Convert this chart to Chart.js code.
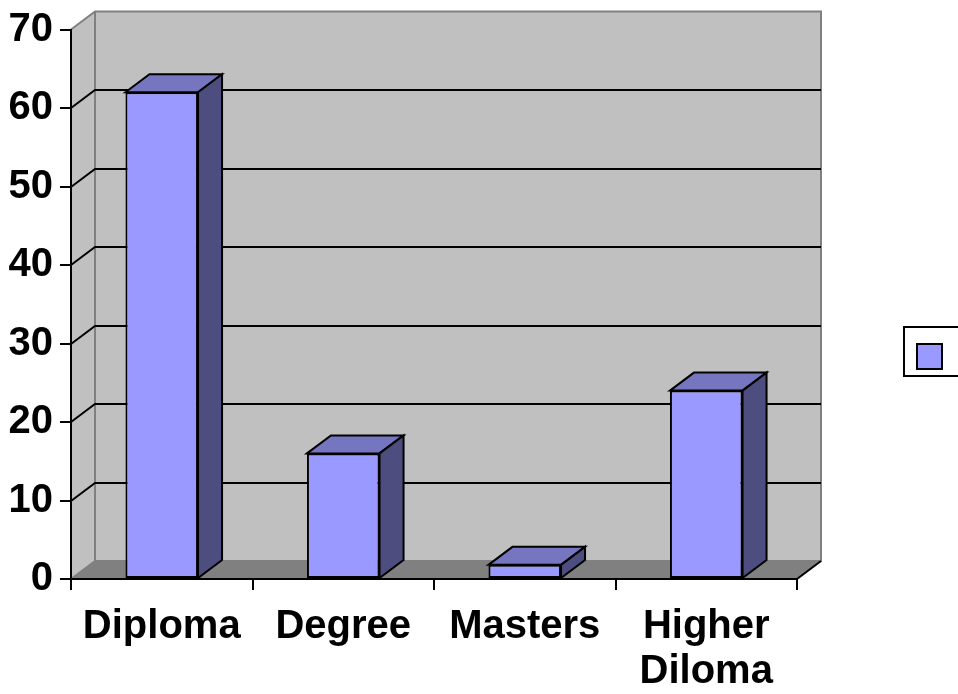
<!DOCTYPE html>
<html>
<head>
<meta charset="utf-8">
<script src="https://cdn.jsdelivr.net/npm/chart.js@4/dist/chart.umd.min.js"></script>
<style>
  body { margin: 0; background: #fff; }
  #wrap { width: 958px; height: 694px; }
</style>
</head>
<body>
<div id="wrap"><canvas id="myChart1" width="958" height="694"></canvas></div>
<script>
let categories = ["Diploma", "Degree", "Masters", ["Higher", "Diloma"]];
let seriesValues = [62, 16, 1.8, 24];
let seriesName = "Series1";
let yTicks = [0, 10, 20, 30, 40, 50, 60, 70];

// 3d depth offset in px
const DX = 24, DY = -18;
const labelFont = {family: "'Liberation Sans', Arial, sans-serif", size: 40, weight: 'bold', lineHeight: 1.125};

const box3d = {
  id: 'box3d',
  beforeDraw(chart) {
    const ctx = chart.ctx;
    const a = chart.chartArea;
    const y = chart.scales.y;
    ctx.save();
    // back wall
    ctx.fillStyle = '#c0c0c0';
    ctx.fillRect(a.left + DX, a.top + DY, a.right - a.left, a.bottom - a.top);
    // side wall
    ctx.beginPath();
    ctx.moveTo(a.left, a.top);
    ctx.lineTo(a.left + DX, a.top + DY);
    ctx.lineTo(a.left + DX, a.bottom + DY);
    ctx.lineTo(a.left, a.bottom);
    ctx.closePath();
    ctx.fill();
    // floor
    ctx.fillStyle = '#808080';
    ctx.beginPath();
    ctx.moveTo(a.left, a.bottom);
    ctx.lineTo(a.right, a.bottom);
    ctx.lineTo(a.right + DX, a.bottom + DY);
    ctx.lineTo(a.left + DX, a.bottom + DY);
    ctx.closePath();
    ctx.fill();
    // wall edges
    ctx.strokeStyle = '#808080';
    ctx.lineWidth = 2;
    ctx.beginPath();
    ctx.moveTo(a.left, a.top);
    ctx.lineTo(a.left + DX, a.top + DY);
    ctx.lineTo(a.right + DX, a.top + DY);
    ctx.lineTo(a.right + DX, a.bottom + DY);
    ctx.lineTo(a.left + DX, a.bottom + DY);
    ctx.lineTo(a.left + DX, a.top + DY);
    ctx.moveTo(a.left, a.bottom);
    ctx.lineTo(a.left + DX, a.bottom + DY);
    ctx.stroke();
    // gridlines
    ctx.strokeStyle = '#000';
    ctx.beginPath();
    yTicks.forEach(v => {
      if (v === 0 || v === 70) return;
      const py = Math.round(y.getPixelForValue(v));
      ctx.moveTo(a.left, py);
      ctx.lineTo(a.left + DX, py + DY);
      ctx.lineTo(a.right + DX, py + DY);
    });
    ctx.stroke();
    // floor right edge
    ctx.beginPath();
    ctx.moveTo(a.right, a.bottom);
    ctx.lineTo(a.right + DX, a.bottom + DY);
    ctx.stroke();
    ctx.restore();
  },
  afterDatasetsDraw(chart) {
    const ctx = chart.ctx;
    ctx.save();
    ctx.lineWidth = 2;
    ctx.strokeStyle = '#000';
    ctx.lineJoin = 'miter';
    chart.getDatasetMeta(0).data.forEach(el => {
      const l = el.x - el.width / 2, r = el.x + el.width / 2;
      const t = el.y, b = el.base;
      // top face
      ctx.fillStyle = '#7575c0';
      ctx.beginPath();
      ctx.moveTo(l, t);
      ctx.lineTo(l + DX, t + DY);
      ctx.lineTo(r + DX, t + DY);
      ctx.lineTo(r, t);
      ctx.closePath();
      ctx.fill();
      ctx.stroke();
      // side face
      ctx.fillStyle = '#4d4d80';
      ctx.beginPath();
      ctx.moveTo(r, t);
      ctx.lineTo(r + DX, t + DY);
      ctx.lineTo(r + DX, b + DY);
      ctx.lineTo(r, b);
      ctx.closePath();
      ctx.fill();
      ctx.stroke();
    });
    ctx.restore();
  },
  afterDraw(chart) {
    // legend box (text falls outside the picture)
    const ctx = chart.ctx;
    ctx.save();
    ctx.fillStyle = '#fff';
    ctx.strokeStyle = '#000';
    ctx.lineWidth = 2;
    ctx.fillRect(904, 327, 70, 49);
    ctx.strokeRect(904, 327, 70, 49);
    ctx.fillStyle = '#9999ff';
    ctx.fillRect(917, 344, 25, 25);
    ctx.strokeRect(917, 344, 25, 25);
    ctx.fillStyle = '#000';
    ctx.font = "bold 40px 'Liberation Sans', Arial, sans-serif";
    ctx.textBaseline = 'middle';
    ctx.fillText(seriesName, 960, 352);
    ctx.restore();
  }
};

let chart = new Chart(document.getElementById('myChart1'), {
  type: 'bar',
  data: {
    labels: categories,
    datasets: [{
      label: seriesName,
      data: seriesValues,
      backgroundColor: '#9999ff',
      borderColor: '#000',
      borderWidth: 2,
      borderSkipped: false,
      barPercentage: 0.4,
      categoryPercentage: 1
    }]
  },
  options: {
    responsive: false,
    animation: false,
    devicePixelRatio: 1,
    layout: {padding: {top: 28, right: 161, left: 0, bottom: 0}},
    plugins: {legend: {display: false}, tooltip: {enabled: false}},
    scales: {
      x: {
        grid: {offset: true, drawOnChartArea: false, drawTicks: true, tickLength: 11, color: '#000', lineWidth: 2},
        border: {display: true, color: '#000', width: 2},
        ticks: {color: '#000', font: labelFont, padding: 14, maxRotation: 0, autoSkip: false},
        afterFit: s => { s.height = 115; }
      },
      y: {
        min: 0,
        max: 70,
        grid: {drawOnChartArea: false, drawTicks: true, tickLength: 11, color: '#000', lineWidth: 2},
        border: {display: true, color: '#000', width: 2},
        ticks: {stepSize: 10, color: '#000', font: labelFont, padding: 7},
        afterFit: s => { s.width = 71; }
      }
    }
  },
  plugins: [box3d]
});
</script>
</body>
</html>
